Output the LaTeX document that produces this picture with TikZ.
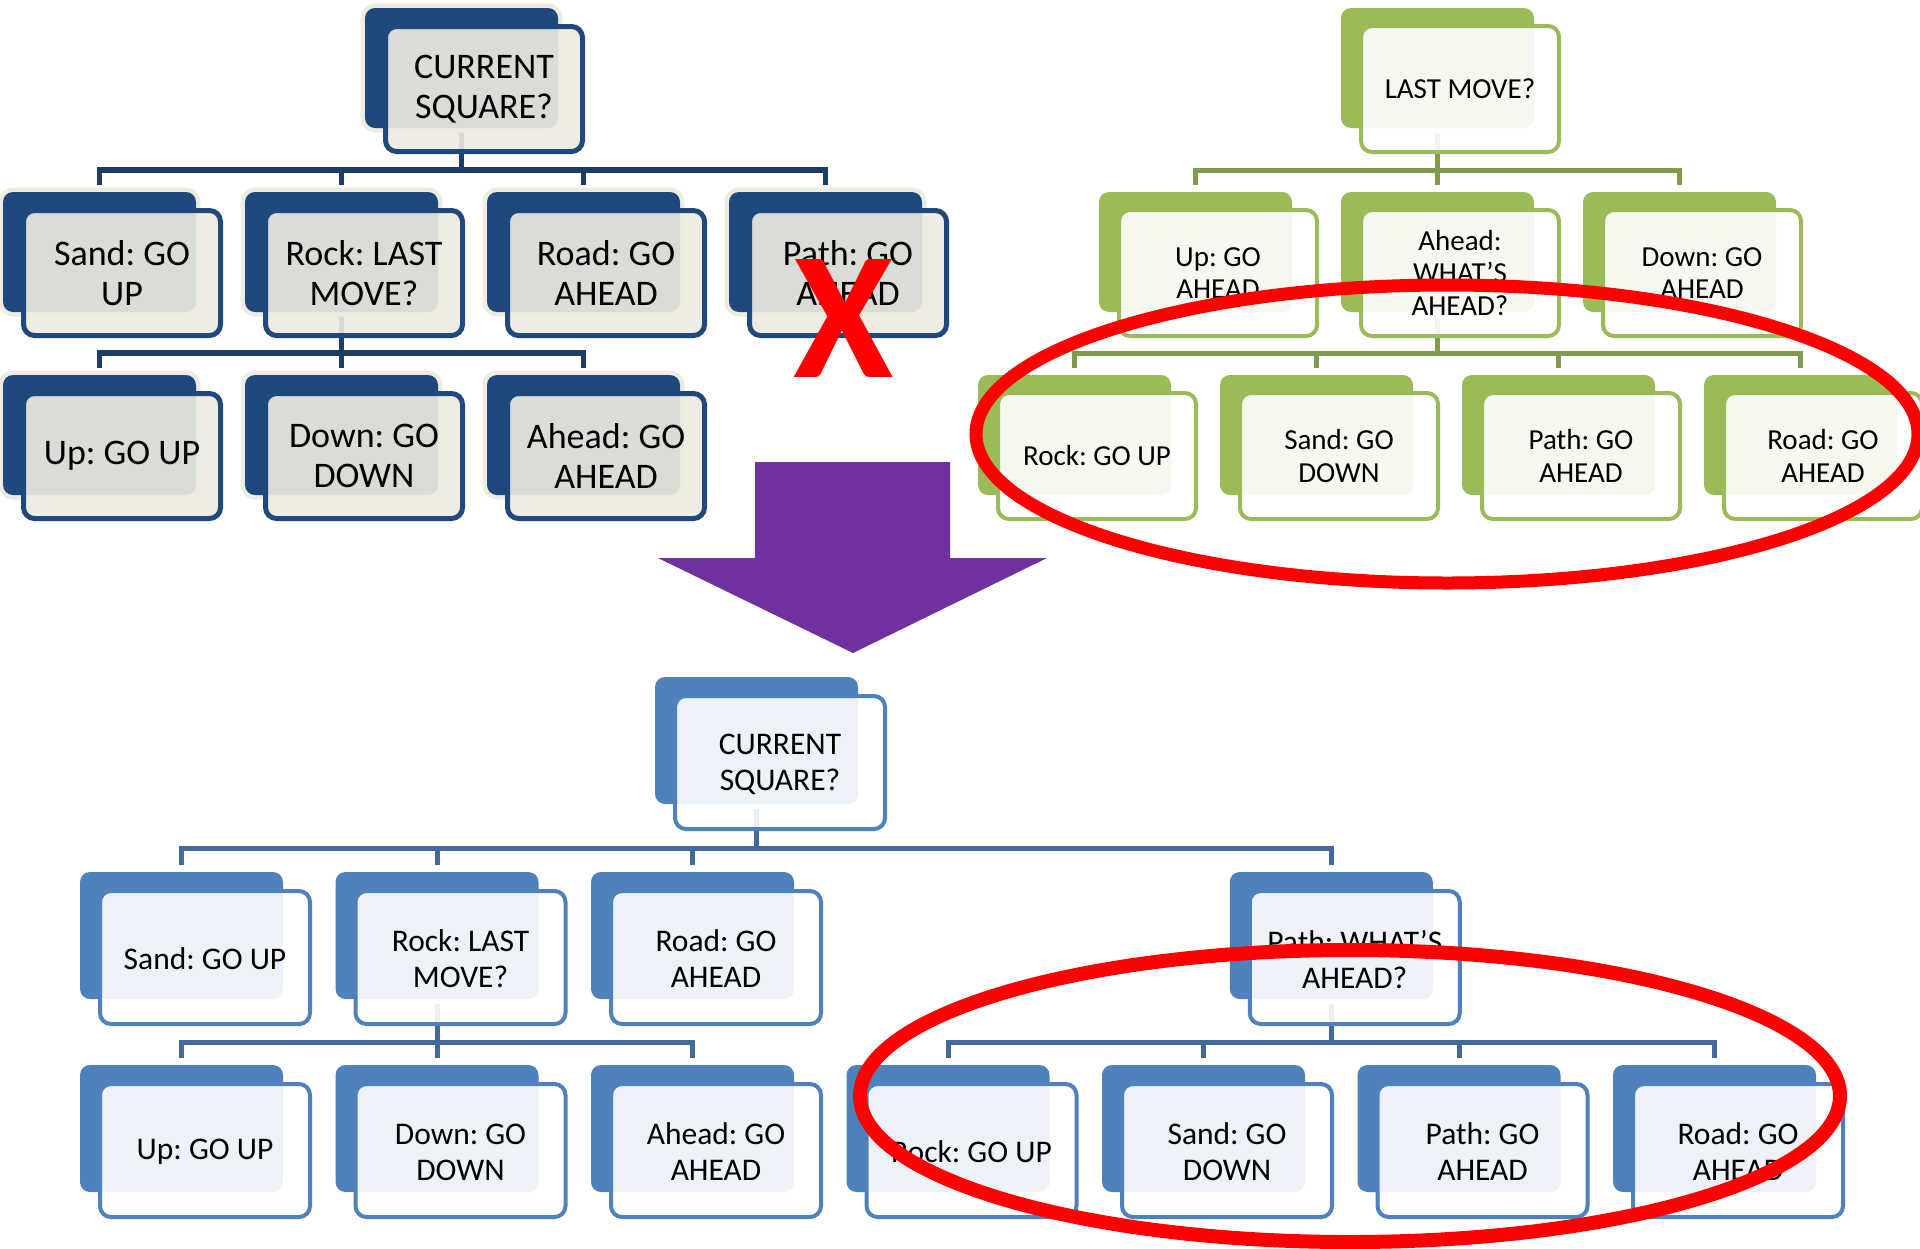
\documentclass[tikz,border=0pt]{standalone}
\usepackage{fontspec}
\setmainfont{Carlito}
\frenchspacing
\usetikzlibrary{backgrounds}
\definecolor{navyc}{HTML}{1F497D}
\definecolor{navyconn}{HTML}{1C3D66}
\definecolor{creamc}{HTML}{EEECE1}
\definecolor{greenc}{HTML}{9BBB59}
\definecolor{greenconn}{HTML}{7F9B4B}
\definecolor{bluec}{HTML}{4F81BD}
\definecolor{blueconn}{HTML}{41699D}
\definecolor{purplec}{HTML}{7030A0}
\definecolor{redc}{HTML}{FF0000}
\tikzset{
  boxbase/.style={rectangle, inner sep=0pt, outer sep=0pt},
  nback/.style={boxbase, rounded corners=10pt, minimum width=193pt, minimum height=120pt, fill=navyc, preaction={draw=creamc, line width=9pt}},
  nfront/.style={boxbase, rounded corners=11pt, minimum width=197pt, minimum height=125pt, draw=navyc, line width=5pt, fill=creamc, fill opacity=0.9},
  ntext/.style={font=\frenchspacing\fontsize{36pt}{40pt}\selectfont, align=center, inner sep=0pt, text=black},
  nconn/.style={draw=navyconn, line width=5.5pt},
  gback/.style={boxbase, rounded corners=10pt, minimum width=193pt, minimum height=120pt, fill=greenc},
  gfront/.style={boxbase, rounded corners=11pt, minimum width=198pt, minimum height=126pt, draw=greenc, line width=4pt, fill=white, fill opacity=0.9},
  gtext/.style={font=\frenchspacing\fontsize{29pt}{32.5pt}\selectfont, align=center, inner sep=0pt, text=black},
  gconn/.style={draw=greenconn, line width=5pt},
  bback/.style={boxbase, rounded corners=10pt, minimum width=203pt, minimum height=127pt, fill=bluec},
  bfront/.style={boxbase, rounded corners=11pt, minimum width=210pt, minimum height=133pt, draw=bluec, line width=4pt, fill=white, fill opacity=0.9},
  btext/.style={font=\frenchspacing\fontsize{31.5pt}{36pt}\selectfont, align=center, inner sep=0pt, text=black},
  bconn/.style={draw=blueconn, line width=5pt},
}
\newcommand{\SBox}[5]{%
  \node[#4back] (#1b) at (#2+96.5,#3+60) {};
  \node[#4front] (#1f) at (#2+119,#3+81) {};
  \node[#4text] (#1t) at (#1f.center) {#5};
}
\newcommand{\BBox}[4]{%
  \node[bback] (#1b) at (#2+101.5,#3+63.5) {};
  \node[bfront] (#1f) at (#2+125,#3+85.5) {};
  \node[btext] (#1t) at ([yshift=-1.5pt]#1f.center) {#4};
}
\newcommand{\Conn}[4]{%
  \draw[#1] ([yshift=-5pt]#2b.south) -- (#2b.south |- 0,#4) -| ([yshift=7pt]#3b.north);
}
\begin{document}
\begin{tikzpicture}[x=1pt,y=-1pt]
\clip (0,0) rectangle (1920,1248);

% ---------- navy tree ----------
\SBox{Nr}{365}{8}{n}{CURRENT\\SQUARE?}
\SBox{N1}{3}{192}{n}{Sand: GO\\UP}
\SBox{N2}{245}{192}{n}{Rock: LAST\\MOVE?}
\SBox{N3}{487}{192}{n}{Road: GO\\AHEAD}
\SBox{N4}{729}{192}{n}{Path: GO\\AHEAD}
\SBox{N5}{3}{375}{n}{Up: GO UP}
\SBox{N6}{245}{375}{n}{Down: GO\\DOWN}
\SBox{N7}{487}{375}{n}{Ahead: GO\\AHEAD}

% ---------- green tree ----------
\SBox{Gr}{1341}{8}{g}{LAST MOVE?}
\SBox{G1}{1099}{192}{g}{Up: GO\\AHEAD}
\SBox{G2}{1341}{192}{g}{Ahead:\\WHAT’S\\AHEAD?}
\SBox{G3}{1583}{192}{g}{Down: GO\\AHEAD}
\SBox{G4}{978}{375}{g}{Rock: GO UP}
\SBox{G5}{1220}{375}{g}{Sand: GO\\DOWN}
\SBox{G6}{1462}{375}{g}{Path: GO\\AHEAD}
\SBox{G7}{1704}{375}{g}{Road: GO\\AHEAD}

% ---------- blue tree ----------
\BBox{Br}{655}{677}{CURRENT\\SQUARE?}
\BBox{B1}{80}{872}{Sand: GO UP}
\BBox{B2}{335.5}{872}{Rock: LAST\\MOVE?}
\BBox{B3}{591}{872}{Road: GO\\AHEAD}
\BBox{B4}{1229.75}{872}{Path: WHAT’S\\AHEAD?}
\BBox{B5}{80}{1065}{Up: GO UP}
\BBox{B6}{335.5}{1065}{Down: GO\\DOWN}
\BBox{B7}{591}{1065}{Ahead: GO\\AHEAD}
\BBox{B8}{846.5}{1065}{Rock: GO UP}
\BBox{B9}{1102}{1065}{Sand: GO\\DOWN}
\BBox{B10}{1357.5}{1065}{Path: GO\\AHEAD}
\BBox{B11}{1613}{1065}{Road: GO\\AHEAD}

% ---------- connectors (behind) ----------
\begin{pgfonlayer}{background}
\fill[white] (0,0) rectangle (1920,1248);
\Conn{nconn}{Nr}{N1}{170}
\Conn{nconn}{Nr}{N2}{170}
\Conn{nconn}{Nr}{N3}{170}
\Conn{nconn}{Nr}{N4}{170}
\Conn{nconn}{N2}{N5}{353}
\Conn{nconn}{N2}{N6}{353}
\Conn{nconn}{N2}{N7}{353}
\Conn{gconn}{Gr}{G1}{170}
\Conn{gconn}{Gr}{G2}{170}
\Conn{gconn}{Gr}{G3}{170}
\Conn{gconn}{G2}{G4}{353}
\Conn{gconn}{G2}{G5}{353}
\Conn{gconn}{G2}{G6}{353}
\Conn{gconn}{G2}{G7}{353}
\Conn{bconn}{Br}{B1}{848}
\Conn{bconn}{Br}{B2}{848}
\Conn{bconn}{Br}{B3}{848}
\Conn{bconn}{Br}{B4}{848}
\Conn{bconn}{B2}{B5}{1042}
\Conn{bconn}{B2}{B6}{1042}
\Conn{bconn}{B2}{B7}{1042}
\Conn{bconn}{B4}{B8}{1042}
\Conn{bconn}{B4}{B9}{1042}
\Conn{bconn}{B4}{B10}{1042}
\Conn{bconn}{B4}{B11}{1042}
\end{pgfonlayer}

% ---------- red X over Path box ----------
\node[font=\bfseries\fontsize{182pt}{182pt}\selectfont, text=redc, anchor=base, inner sep=0pt] (xmark) at (844,377) {X};

% ---------- purple arrow ----------
\fill[purplec] (755,462) -- (950,462) -- (950,558) -- (1047,558) -- (853,653) -- (658,558) -- (755,558) -- cycle;

% ---------- red ellipses ----------
\draw[redc, line width=13pt] (1447,434) ellipse [x radius=471pt, y radius=149pt];
\draw[redc, line width=14pt] (1350,1096) ellipse [x radius=490pt, y radius=146pt];
\end{tikzpicture}
\end{document}
